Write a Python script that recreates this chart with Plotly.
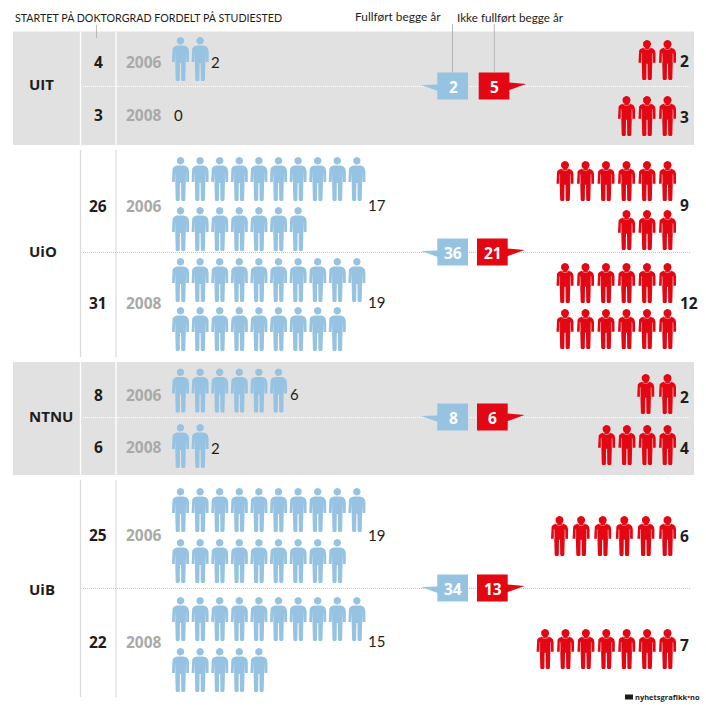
import math
import plotly.graph_objects as go

# ---- data ----
institutions = ["UIT", "UiO", "NTNU", "UiB"]
years = ["2006", "2008"]
started_2006 = [4, 26, 8, 25]
started_2008 = [3, 31, 6, 22]
completed_2006 = [2, 17, 6, 19]
completed_2008 = [0, 19, 2, 15]
not_completed_2006 = [2, 9, 2, 6]
not_completed_2008 = [3, 12, 4, 7]
completed_total = [2, 36, 8, 34]
not_completed_total = [5, 21, 6, 13]
title_left = "STARTET PÅ DOKTORGRAD FORDELT PÅ STUDIESTED"
title_done = "Fullført begge år"
title_not_done = "Ikke fullført begge år"

# ---- layout constants (pixels) ----
W, H = 706, 710
FONT = "Lato"
BOLD_FONT = "Open Sans"
BLUE, RED, GREY = "#97c3e2", "#e30613", "#e1e1e1"
DARK, YEAR = "#1d1d1b", "#a9a9a9"
panel_bands = [(31.5, 145), (150, 357), (362, 475), (480, 697)]
mid_y = [86, 252, 417, 588]
row_label_y = [(62, 115), (206, 303), (395, 447), (535, 642)]
inst_label_y = [84, 251, 416, 589]
blue_tops = [((37,), (0,)), ((157, 207), (258, 307)), ((368.5,), (424,)), ((488, 539), (597, 648))]
red_tops = [((40,), (96,)), ((161, 210), (263, 309)), ((374,), (425,)), ((516,), (629,))]
red_step = [(20.5, 20.5), (20.5, 20.5), (21.8, 20.3), (21.6, 20.4)]
blue_side_y = [(62, 115), (205, 302), (394, 448), (535, 641)]
red_side_y = [(61, 117), (205, 303), (397, 448), (536, 645)]
red_box_x = [478.7, 477, 477, 477]
BLUE_X0, BLUE_STEP, PER_ROW_BLUE, PER_ROW_RED, RED_RIGHT = 172, 19.6, 10, 6, 676

fig = go.Figure()


def add_poly(polys, color):
    xs, ys = [], []
    for p in polys:
        xs += [q[0] for q in p] + [p[0][0], None]
        ys += [q[1] for q in p] + [p[0][1], None]
    fig.add_trace(go.Scatter(x=xs, y=ys, mode="lines", fill="toself", fillcolor=color,
                             line=dict(width=0, color=color), hoverinfo="skip", showlegend=False))


def add_lines(lines, color, width):
    xs, ys = [], []
    for p in lines:
        xs += [q[0] for q in p] + [None]
        ys += [q[1] for q in p] + [None]
    fig.add_trace(go.Scatter(x=xs, y=ys, mode="lines", line=dict(width=width, color=color),
                             hoverinfo="skip", showlegend=False))


def circle(cx, cy, r):
    return [(cx + r * math.cos(i * math.pi / 10), cy + r * math.sin(i * math.pi / 10)) for i in range(20)]


def person(x, y, h):
    """Outline of a figure 17 wide, h high, from a unit drawing."""
    k = h / 44.0
    outline = [(5.2, 8.5), (11.8, 8.5), (14.8, 9.5), (16.4, 11.5), (17, 14.5), (17, 25), (14.2, 25), (14.2, 14.5),
               (13.7, 14.5), (13.7, 27), (13.3, 43), (12.5, 44), (10, 44), (9.2, 43), (9, 26), (8, 26), (7.8, 43),
               (7, 44), (4.5, 44), (3.7, 43), (3.3, 27), (3.3, 14.5), (2.8, 14.5), (2.8, 25), (0, 25), (0, 14.5),
               (0.6, 11.5), (2.2, 9.5)]
    return [(x + a, y + b * k) for a, b in outline]


def pale_marks(x, y, h):
    k = h / 44.0
    collar = [(x + 8.5 + 5.1 * math.cos(t * math.pi / 8), y + 4.4 + 5.1 * math.sin(t * math.pi / 8)) for t in range(1, 8)]
    slit_l = [(x + 3.1, y + 14.5 * k), (x + 3.1, y + 25 * k)]
    slit_r = [(x + 13.9, y + 14.5 * k), (x + 13.9, y + 25 * k)]
    return [collar, slit_l, slit_r]


# ---- panels and rules ----
shapes = []
for i, (a, b) in enumerate(panel_bands):
    grey = i % 2 == 0
    if grey:
        shapes.append(dict(type="rect", xref="x", yref="y", x0=13, x1=694, y0=a, y1=b,
                           fillcolor=GREY, line_width=0, layer="below"))
    c = "#ffffff" if grey else "#dcdcdc"
    for vx in (80.5, 116):
        shapes.append(dict(type="line", xref="x", yref="y", x0=vx, x1=vx, y0=a, y1=b,
                           line=dict(color=c, width=1.3), layer="below"))
    shapes.append(dict(type="line", xref="x", yref="y", x0=83, x1=691, y0=mid_y[i] + 0.5, y1=mid_y[i] + 0.5,
                       line=dict(color="#ffffff" if grey else "#c8c8c8", width=1, dash="1px 1px"), layer="below"))
for lx, y0 in ((96.5, 25), (452.5, 24), (494.3, 24)):
    shapes.append(dict(type="line", xref="x", yref="y", x0=lx, x1=lx, y0=y0, y1=38 if lx < 100 else 72.5,
                       line=dict(color="#a8a8a8", width=0.8)))

# ---- figures ----
blue_polys, red_polys, pale = [], [], []
blue_counts = list(zip(completed_2006, completed_2008))
red_counts = list(zip(not_completed_2006, not_completed_2008))
for i in range(4):
    for j in range(2):
        n = blue_counts[i][j]
        tops = blue_tops[i][j]
        for k in range(n):
            blue_polys.append(person(BLUE_X0 + BLUE_STEP * (k % PER_ROW_BLUE), tops[k // PER_ROW_BLUE], 44))
            r = 3.8
            blue_polys.append(circle(BLUE_X0 + BLUE_STEP * (k % PER_ROW_BLUE) + 8.5, tops[k // PER_ROW_BLUE] + r, r))
        n = red_counts[i][j]
        per = PER_ROW_RED if i == 1 else n
        step = red_step[i][j]
        for k in range(n):
            row = k // per
            in_row = min(per, n - row * per)
            col = k % per
            x = RED_RIGHT - 17 - step * (in_row - 1 - col)
            y = red_tops[i][j][row]
            red_polys.append(person(x, y, 40))
            red_polys.append(circle(x + 8.5, y + 4.1, 4.1))
            pale += pale_marks(x, y, 40)
add_poly(blue_polys, BLUE)
add_poly(red_polys, RED)
add_lines(pale, "#f7a3a8", 0.7)

# ---- callouts ----
blue_boxes, red_boxes = [], []
for i, m in enumerate(mid_y):
    blue_boxes.append([(437.3, m - 13.5), (468, m - 13.5), (468, m + 13.5), (437.3, m + 13.5),
                       (437.3, m + 4.7), (421, m - 1), (437.3, m - 1.5)])
    rx = red_box_x[i]
    red_boxes.append([(rx, m - 13.5), (rx + 30.7, m - 13.5), (rx + 30.7, m - 3.5), (rx + 47.5, m - 2),
                      (rx + 30.7, m + 4), (rx + 30.7, m + 13.5), (rx, m + 13.5)])
add_poly(blue_boxes, BLUE)
add_poly(red_boxes, RED)

# ---- text ----
ann = []


def text(x, y, s, size, color=DARK, bold=False, anchor="left"):
    ann.append(dict(x=x, y=y, xref="x", yref="y", text=f"<b>{s}</b>" if bold else s, showarrow=False,
                    xanchor=anchor, yanchor="middle", align=anchor, borderpad=0, xshift=0,
                    font=dict(family=BOLD_FONT if bold else FONT, size=size, color=color)))


text(14, 17, title_left, 10.7)
text(354, 16.5, title_done, 11.9)
text(456, 16.5, title_not_done, 11.7)
started = list(zip(started_2006, started_2008))
for i, name in enumerate(institutions):
    text(28, inst_label_y[i], name, 15, bold=True)
    for j in range(2):
        y = row_label_y[i][j]
        text(98, y, str(started[i][j]), 15.5, bold=True, anchor="center")
        text(125, y, years[j], 15.5, color=YEAR, bold=True)
        n = blue_counts[i][j]
        if n == 0:
            sx = 173
        else:
            sx = BLUE_X0 + BLUE_STEP * (min(n, PER_ROW_BLUE) - 1) + 17 + 1.5
        text(sx, blue_side_y[i][j], str(n), 15)
        text(678.5, red_side_y[i][j], str(red_counts[i][j]), 15.5, bold=True)
    text(453, mid_y[i] + 1, str(completed_total[i]), 15.5, color="#ffffff", bold=True, anchor="center")
    text(red_box_x[i] + 15.5, mid_y[i] + 1, str(not_completed_total[i]), 15.5, color="#ffffff", bold=True, anchor="center")

shapes.append(dict(type="rect", xref="x", yref="y", x0=625, x1=633, y0=694.5, y1=699.5, fillcolor="#1d1d1b", line_width=0))
text(633.5, 697, "nyhetsgrafikk<span style='color:#e30613'>•</span>no", 7.5, color="#1d1d1b", bold=True)

fig.update_layout(
    width=W, height=H, margin=dict(l=0, r=0, t=0, b=0),
    paper_bgcolor="#ffffff", plot_bgcolor="#ffffff", showlegend=False,
    xaxis=dict(range=[0, W], visible=False, fixedrange=True),
    yaxis=dict(range=[H, 0], visible=False, fixedrange=True),
    shapes=shapes, annotations=ann,
)
fig.write_html("out.html", config=dict(displayModeBar=False),
               post_script="document.body.style.margin='0';")
